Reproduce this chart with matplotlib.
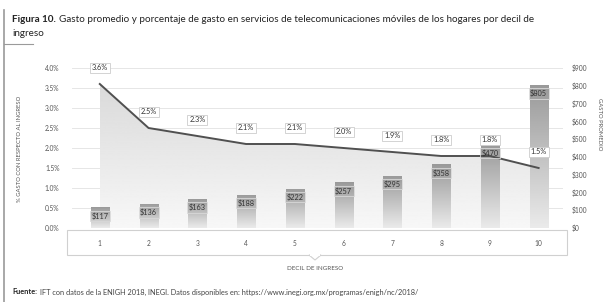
import numpy as np
import matplotlib
matplotlib.use("Agg")
import matplotlib.pyplot as plt
from matplotlib.patches import Polygon, Rectangle
from matplotlib.lines import Line2D

deciles = ["1", "2", "3", "4", "5", "6", "7", "8", "9", "10"]
gasto = [117, 136, 163, 188, 222, 257, 295, 358, 470, 805]
porcentaje = [3.6, 2.5, 2.3, 2.1, 2.1, 2.0, 1.9, 1.8, 1.8, 1.5]
pct_ticks = [0.0, 0.5, 1.0, 1.5, 2.0, 2.5, 3.0, 3.5, 4.0]
usd_ticks = [0, 100, 200, 300, 400, 500, 600, 700, 800, 900]

plt.rcParams['font.family'] = ['Lato', 'DejaVu Sans']
txt = '#555555'

fig = plt.figure(figsize=(6.05, 3.02), dpi=100)
ax = fig.add_axes([72 / 605, 1 - 228 / 302, 491 / 605, 160 / 302])
ax2 = ax.twinx()
ax.set_zorder(1)
ax2.set_zorder(2)
ax2.patch.set_visible(False)
x = np.arange(len(deciles))

ax.set_xlim(-0.57, 9.5)
ax2.set_xlim(-0.57, 9.5)
ax.set_ylim(0, 4.0)
ax2.set_ylim(0, 900)

# area under the line with vertical gradient (left axis)
grad = np.linspace(0.97, 0.84, 256).reshape(-1, 1)
im = ax.imshow(grad, extent=[x[0], x[-1], 0, 4.0], origin='lower', aspect='auto',
               cmap='gray', vmin=0, vmax=1, zorder=1)
poly = Polygon(np.vstack([np.column_stack([x, porcentaje]),
                          [[x[-1], 0], [x[0], 0]]]), closed=True,
               fc='none', ec='none', transform=ax.transData)
ax.add_patch(poly)
im.set_clip_path(poly)

# bars with gradient (right axis)
w = 0.37
bgrad = np.linspace(0.92, 0.6, 256).reshape(-1, 1)
for xi, g in zip(x, gasto):
    r = Rectangle((xi - w / 2, 0), w, g, fc='none', ec='none')
    ax2.add_patch(r)
    b = ax2.imshow(bgrad, extent=[xi - w / 2, xi + w / 2, 0, g], origin='lower',
                   aspect='auto', cmap='gray', vmin=0, vmax=1, zorder=2)
    b.set_clip_path(r)
    ax2.annotate('$%d' % g, (xi, g), xytext=(0, -3.5), textcoords='offset points',
                 ha='center', va='top', fontsize=5.3, color='#333333', zorder=5,
                 bbox=dict(boxstyle='square,pad=0.2', fc='none', ec='#d8d8d8', lw=0.6))

# line drawn above the bars, in left-axis data coordinates
ax2.plot(x, porcentaje, color='#505050', lw=1.4, zorder=4, transform=ax.transData)
for xi, p in zip(x, porcentaje):
    ax2.annotate('%.1f%%' % p, (xi, p), xycoords=ax.transData, xytext=(0, 9),
                 textcoords='offset points', ha='center', va='bottom', fontsize=5.3,
                 color='#333333', zorder=6,
                 bbox=dict(boxstyle='square,pad=0.25', fc='white', ec='#cccccc', lw=0.6))

ax.set_xlim(-0.57, 9.5)
ax2.set_xlim(-0.57, 9.5)
ax.set_ylim(0, 4.0)
ax2.set_ylim(0, 900)
ax.set_yticks(pct_ticks)
ax.set_yticklabels(['%.1f%%' % t for t in pct_ticks])
ax2.set_yticks(usd_ticks)
ax2.set_yticklabels(['$%d' % t for t in usd_ticks])
for a in (ax, ax2):
    a.tick_params(length=0, labelsize=4.8, labelcolor=txt)
    for s in a.spines.values():
        s.set_visible(False)
    a.set_xticks([])
ax.tick_params(axis='y', pad=9)
ax2.tick_params(axis='y', pad=6)
ax.grid(axis='y', color='#e6e6e6', lw=0.7, zorder=0)
ax.set_axisbelow(True)

# category box below the plot
box = Rectangle((67 / 605, 1 - 255 / 302), 500 / 605, 25 / 302, transform=fig.transFigure,
                fc='white', ec='#d0d0d0', lw=0.8)
fig.patches.append(box)
notch = Polygon([[309 / 605, 1 - 255 / 302], [321 / 605, 1 - 255 / 302],
                 [315 / 605, 1 - 260 / 302]], closed=True, transform=fig.transFigure,
                fc='white', ec='#d0d0d0', lw=0.8)
fig.patches.append(notch)
fig.patches.append(Rectangle((309.8 / 605, 1 - 255.6 / 302), 10.4 / 605, 1.5 / 302,
                             transform=fig.transFigure, fc='white', ec='none'))
for xi, d in zip(x, deciles):
    xf = (72 + (xi + 0.57) / 10.07 * 491) / 605
    fig.text(xf, 1 - 243 / 302, d, ha='center', va='center', fontsize=4.8, color=txt)

fig.text(315 / 605, 1 - 269 / 302, 'DECIL DE INGRESO', ha='center', va='center',
         fontsize=4.5, color=txt)
fig.text(20 / 605, 1 - 149 / 302, '% GASTO CON RESPECTO AL INGRESO', rotation=90,
         ha='center', va='center', fontsize=4.2, color=txt)
fig.text(599 / 605, 1 - 124 / 302, 'GASTO PROMEDIO', rotation=270,
         ha='center', va='center', fontsize=4.2, color=txt)

# title and source, regular text placed right after the bold part
renderer = fig.canvas.get_renderer()


def bold_then_plain(xpx, ypx, bold, plain, size, c_plain):
    t = fig.text(xpx / 605, 1 - ypx / 302, bold, fontsize=size, fontweight='bold',
                 color='#222222', va='center')
    bb = t.get_window_extent(renderer=renderer)
    fig.text(bb.x1 / 605 + 3 / 605, 1 - ypx / 302, plain, fontsize=size,
             color=c_plain, va='center')


bold_then_plain(12, 20, 'Figura 10.',
                'Gasto promedio y porcentaje de gasto en servicios de telecomunicaciones '
                'móviles de los hogares por decil de', 7.1, '#222222')
fig.text(12 / 605, 1 - 33 / 302, 'ingreso', fontsize=7.1, color='#222222', va='center')
bold_then_plain(12, 292, 'Fuente:',
                'IFT con datos de la ENIGH 2018, INEGI. Datos disponibles en: '
                'https://www.inegi.org.mx/programas/enigh/nc/2018/', 5.3, '#444444')

# left frame lines
fig.add_artist(Line2D([4 / 605, 4 / 605], [0, 1 - 10 / 302], transform=fig.transFigure,
                      color='#9a9a9a', lw=1.2))
fig.add_artist(Line2D([4 / 605, 33 / 605], [1 - 44 / 302, 1 - 44 / 302],
                      transform=fig.transFigure, color='#9a9a9a', lw=0.8))

fig.savefig('out.png', dpi=100)
